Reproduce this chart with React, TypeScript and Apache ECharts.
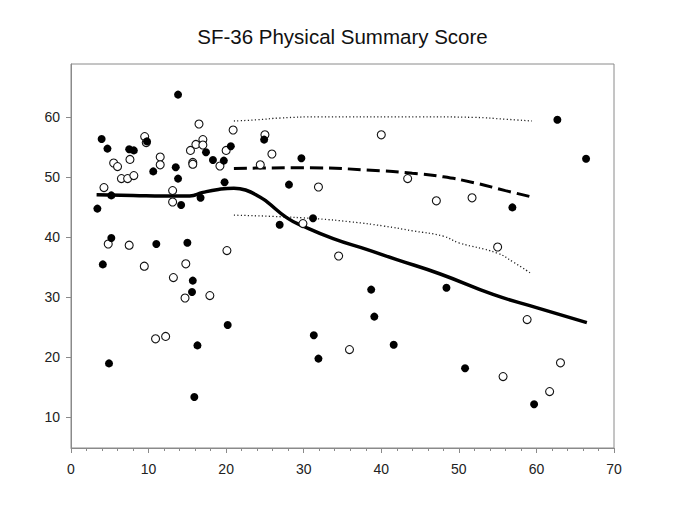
import React, { useEffect, useRef } from "react";
import * as echarts from "echarts";

const titleText = "SF-36 Physical Summary Score";
const xTicks = [0, 10, 20, 30, 40, 50, 60, 70];
const yTicks = [10, 20, 30, 40, 50, 60];

const filledPoints: number[][] = [
  [3.95, 56.3], [4.7, 54.7], [3.4, 44.7], [5.2, 46.9], [5.2, 39.8], [7.5, 54.6], [8.1, 54.4],
  [9.8, 55.9], [10.6, 50.9], [13.8, 63.7], [13.5, 51.6], [13.8, 49.7], [14.2, 45.3], [16.7, 46.5],
  [17.4, 54.1], [18.3, 52.8], [19.7, 52.7], [19.8, 49.1], [20.6, 55.1], [11.0, 38.8], [15.0, 39.0],
  [4.1, 35.4], [15.7, 32.7], [15.6, 30.8], [20.2, 25.3], [16.3, 21.9], [4.9, 18.9], [15.9, 13.3],
  [24.9, 56.2], [29.7, 53.1], [28.1, 48.7], [26.9, 42.0], [31.2, 43.1], [38.7, 31.2], [39.1, 26.7],
  [31.3, 23.6], [31.9, 19.7], [41.6, 22.0], [48.4, 31.5], [62.7, 59.5], [66.4, 53.0], [56.9, 44.9],
  [50.8, 18.1], [59.7, 12.1],
];

const openPoints: number[][] = [
  [4.25, 48.2], [5.5, 52.3], [6.0, 51.7], [6.5, 49.7], [7.3, 49.7], [7.6, 52.9], [8.1, 50.2],
  [9.5, 56.7], [9.7, 55.7], [11.5, 53.3], [11.5, 52.0], [13.1, 47.7], [13.1, 45.8], [15.4, 54.4],
  [15.7, 52.4], [15.7, 52.1], [16.1, 55.4], [16.5, 58.8], [17.0, 56.2], [17.0, 55.3], [19.2, 51.8],
  [20.0, 54.4], [20.9, 57.8], [4.8, 38.8], [7.5, 38.6], [20.1, 37.7], [24.4, 52.0], [9.45, 35.1],
  [14.8, 35.5], [13.2, 33.2], [14.7, 29.8], [17.9, 30.2], [10.9, 23.0], [12.2, 23.4], [25.0, 57.0],
  [25.9, 53.8], [40.0, 57.0], [43.4, 49.7], [47.1, 46.0], [31.9, 48.3], [29.9, 42.2], [34.5, 36.8],
  [35.9, 21.2], [51.7, 46.5], [55.0, 38.3], [58.8, 26.2], [63.1, 19.0], [55.7, 16.7], [61.7, 14.2],
];

const solidCurve: number[][] = [
  [3.3, 47.0], [8, 46.9], [12, 46.8], [15.3, 46.8], [17, 47.4], [19, 47.9], [21, 48.1],
  [22.5, 47.8], [24.4, 46.6], [25.2, 45.9], [27.8, 43.2], [29.9, 41.8], [33.8, 39.7],
  [38.1, 37.9], [42, 36.2], [47.6, 33.8], [54.4, 30.4], [60, 28.2], [66.5, 25.7],
];

const dashedCurve: number[][] = [
  [21, 51.4], [30, 51.5], [40, 51.0], [44, 50.6], [48, 50.0], [52, 49.0], [56, 47.7], [59.2, 46.7],
];

const upperDotted: number[][] = [
  [21, 59.3], [24, 59.5], [27, 59.8], [32, 60.0], [45, 60.0], [52, 59.9], [56, 59.6], [59.4, 59.3],
];

const lowerDotted: number[][] = [
  [21, 43.6], [26, 43.4], [31.7, 43.0], [36, 42.5], [40.3, 41.8], [44, 41.0], [48, 40.1],
  [50, 39.0], [54.9, 37.3], [57, 35.8], [59.4, 33.8],
];

export default function App() {
  const ref = useRef<HTMLDivElement>(null);
  useEffect(() => {
    if (!ref.current) return;
    const chart = echarts.init(ref.current, null, { renderer: "svg" });
    const axisGrey = "#8a8a8a";
    const font = "Liberation Sans, Arial, sans-serif";
    chart.setOption({
      animation: false,
      backgroundColor: "#ffffff",
      title: {
        text: titleText,
        left: "center",
        top: 21,
        textStyle: { fontFamily: font, fontSize: 20.5, fontWeight: "normal", color: "#111" },
      },
      grid: {
        left: 71,
        right: 71,
        top: 64,
        bottom: 65,
        show: true,
        borderColor: axisGrey,
        borderWidth: 1,
        containLabel: false,
      },
      xAxis: {
        type: "value",
        min: xTicks[0],
        max: xTicks[xTicks.length - 1],
        interval: 10,
        splitLine: { show: false },
        axisLine: { show: true, lineStyle: { color: axisGrey, width: 1 } },
        axisTick: { show: true, length: 5, lineStyle: { color: axisGrey } },
        minorTick: { show: true, splitNumber: 5, length: 3, lineStyle: { color: axisGrey } },
        axisLabel: { fontFamily: font, fontSize: 14, color: "#222", margin: 14 },
      },
      yAxis: {
        type: "value",
        min: 4.8,
        max: 68.8,
        splitLine: { show: false },
        axisLine: { show: true, lineStyle: { color: axisGrey, width: 1 } },
        axisTick: { show: true, length: 5, lineStyle: { color: axisGrey }, customValues: yTicks },
        axisLabel: { fontFamily: font, fontSize: 14, color: "#222", margin: 11, customValues: yTicks },
      },
      series: [
        {
          type: "line",
          data: upperDotted,
          showSymbol: false,
          smooth: true,
          lineStyle: { color: "#222", width: 1.3, type: [1.2, 2.3] },
          z: 2,
        },
        {
          type: "line",
          data: lowerDotted,
          showSymbol: false,
          smooth: true,
          lineStyle: { color: "#222", width: 1.3, type: [1.2, 2.3] },
          z: 2,
        },
        {
          type: "line",
          data: dashedCurve,
          showSymbol: false,
          smooth: true,
          lineStyle: { color: "#000", width: 3, type: [13, 6] },
          z: 2,
        },
        {
          type: "line",
          data: solidCurve,
          showSymbol: false,
          smooth: true,
          lineStyle: { color: "#000", width: 3.5 },
          z: 2,
        },
        {
          type: "scatter",
          data: openPoints,
          symbol: "circle",
          symbolSize: 8,
          itemStyle: { color: "#ffffff", borderColor: "#111", borderWidth: 1.1, opacity: 1 },
          z: 3,
        },
        {
          type: "scatter",
          data: filledPoints,
          symbol: "circle",
          symbolSize: 8,
          itemStyle: { color: "#000", opacity: 1 },
          z: 4,
        },
      ],
    });
    return () => chart.dispose();
  }, []);
  return <div ref={ref} style={{ width: 685, height: 513, position: "absolute", left: 0, top: 0 }} />;
}
